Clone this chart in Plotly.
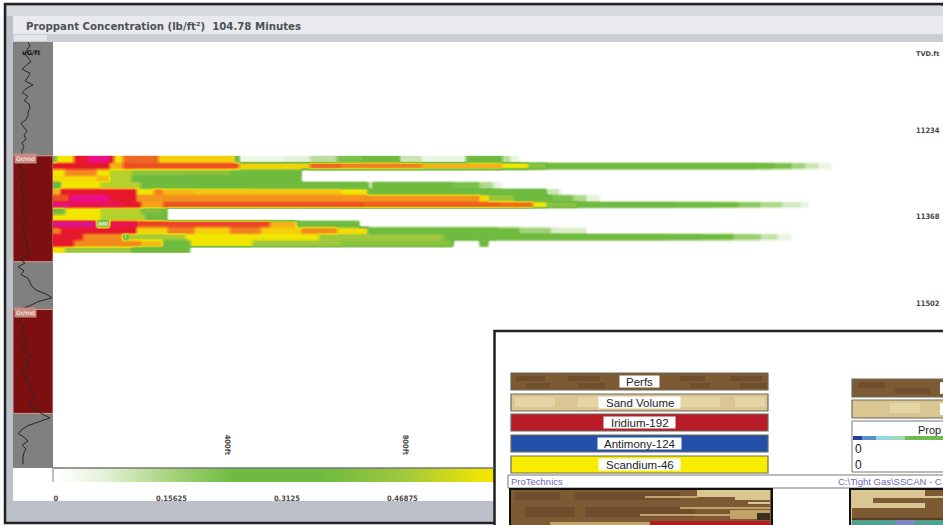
import plotly.graph_objects as go

W, H = 943, 525

# ---------- data ----------
PROPPANT_CMAX = 1.25
COLOR_STOPS = [(0, "#ffffff"), (0.06, "#e6f3dc"), (0.156, "#a5d27c"), (0.24, "#6fbb40"), (0.36, "#6fbb40"),
               (0.47, "#a0c83c"), (0.58, "#f2e600"), (0.66, "#f8b814"), (0.78, "#f28a1e"), (0.88, "#ee5a22"),
               (1.0, "#e8182c"), (1.12, "#ea1088"), (1.25, "#b41ca0")]

DISTANCE_STEP_FT = 10
MAX_DISTANCE_FT = 1800
DEPTH_TOP_FT = 11274
DEPTH_STEP_FT = 10

# each depth row: (outer end of run in ft, proppant concentration)
ROW_00 = [(13, .3), (52, .58), (80, 1.0), (130, 1.12), (142, 1.0), (160, .58), (243, .85), (249, .4), (413, .62), (422, .35),
          (520, .04), (580, .06), (640, .12), (700, .22), (782, .3), (834, .1), (930, .05), (1013, .26), (1030, .12), (1050, .05)]
ROW_01 = [(13, 1.0), (137, 1.0), (160, .7), (422, .9), (580, .62), (654, .85), (834, .8), (1013, .68), (1074, .58), (1110, .42),
          (1580, .3), (1620, .27), (1660, .22), (1690, .16), (1720, .1), (1755, .05)]
ROW_02 = [(31, .58), (108, .78), (130, .58), (189, .5), (400, .42), (564, .36)]
ROW_03 = [(108, .6), (130, .66), (189, .5), (300, .33), (564, .3)]
ROW_04 = [(25, .3), (115, .58), (200, .5), (450, .36), (710, .3), (721, .1), (900, .27), (960, .22), (990, .14), (1010, .06)]
ROW_05 = [(25, .7), (198, 1.0), (235, .58), (254, .8), (320, .66), (654, .64), (710, .58), (721, .3), (1119, .3), (1140, .1)]
ROW_06 = [(40, .9), (137, 1.12), (198, 1.0), (254, .75), (962, .76), (984, .6), (1040, .45), (1120, .3), (1170, .22), (1200, .14), (1230, .06)]
ROW_07 = [(40, 1.12), (160, 1.05), (204, 1.0), (254, .72), (700, .9), (1000, .87), (1088, .84), (1119, .58), (1180, .42),
          (1400, .3), (1480, .28), (1540, .24), (1590, .19), (1640, .14), (1680, .09), (1706, .05)]
ROW_08 = [(31, .36), (115, .58), (204, .5), (254, .4), (265, .3)]
ROW_09 = [(115, .58), (210, .5), (254, .36), (265, .3)]
ROW_10 = [(31, 1.15), (108, 1.15), (130, .12), (198, 1.05), (490, .92), (557, .68), (699, .3)]
ROW_11 = [(25, .8), (198, 1.0), (260, .62), (320, .8), (400, .62), (470, .8), (560, .62), (640, .78), (710, .6), (1000, .3),
          (1058, .24), (1120, .16), (1200, .08)]
ROW_12 = [(70, 1.0), (164, .78), (176, .14), (301, .48), (600, .58), (880, .47), (1000, .36), (1380, .3), (1460, .28), (1530, .24),
          (1590, .17), (1630, .11), (1665, .05)]
ROW_13 = [(52, 1.0), (204, .78), (254, .66), (317, .33), (452, .58), (650, .47), (908, .42), (962, 0), (980, .28)]
ROW_14 = [(31, .58), (189, .46), (317, .3)]
PROPPANT_ROWS = [ROW_00, ROW_01, ROW_02, ROW_03, ROW_04, ROW_05, ROW_06, ROW_07, ROW_08, ROW_09, ROW_10, ROW_11, ROW_12, ROW_13, ROW_14]

# gamma log track
LOG_TOP_FT = 11098
LOG_STEP_FT = 6
GAMMA = [60, 68, 56, 48, 60, 72, 52, 36, 68, 60, 48, 80, 52, 36, 60, 44, 64, 68, 60, 60, 52, 32, 44, 56, 44, 52, 36, 44, 36,
         36, 28, 44, 24, 32, 40, 28, 44, 32, 36, 44, 36, 48, 32, 40, 36, 48, 56, 44, 36, 44, 52, 44, 60, 52, 68, 64,
         28, 48, 20, 44, 32, 60, 68, 76, 92, 132, 156, 100, 68,
         28, 20, 32, 24, 36, 44, 32, 40, 48, 56, 36, 60, 72, 52, 64, 44, 36, 56, 48, 64, 68, 76, 84, 80, 68, 72, 92,
         116, 148, 108, 60, 36, 20, 44, 60, 36, 52, 44, 40, 40, 40]
RED_ZONES_FT = [(11274, 11438), (11512, 11673)]
ZONE_LABEL = "Gr/md"
LOG_UNITS = "uG/ft"

DEPTH_TICKS = [11234, 11368, 11502]
DEPTH_TICK_TEXT = ["<b>11234</b>", "<b>11368</b>", "<b>11502</b>"]
DEPTH_RANGE = [11757.6, 11097.7]
DISTANCE_TICKS = [400, 800, 1200]
DISTANCE_TICK_TEXT = ["<b>400ft</b>", "<b>800ft</b>", "<b>1200ft</b>"]
DISTANCE_RANGE = [9, 2006]
SCALE_TICKS = [0, 0.15625, 0.3125, 0.46875]
SCALE_TICK_TEXT = ["<b>0</b>", "<b>0.15625</b>", "<b>0.3125</b>", "<b>0.46875</b>"]
SCALE_RANGE = [-0.004, 0.594]
SCALE_VALUES = [i / 100 for i in range(0, 61)]

TITLE = "Proppant Concentration (lb/ft²)  104.78 Minutes"
LEGEND_LEFT = ["Perfs", "Sand Volume", "Iridium-192", "Antimony-124", "Scandium-46"]
FOOT_LEFT = "ProTechnics"
FOOT_RIGHT = "C:\\Tight Gas\\SSCAN - C"
BOX_TITLE = "Prop"

# ---------- build ----------
colorscale = [[v / PROPPANT_CMAX, c] for v, c in COLOR_STOPS]
columns = list(range(0, MAX_DISTANCE_FT, DISTANCE_STEP_FT))


def expand(runs):
    out = []
    for x in columns:
        val = 0
        for end, v in runs:
            if x <= end:
                val = v
                break
        out.append(val)
    return out


# two sub-rows per strip: smoothing softens edges without merging strips entirely
depths, z = [], []
for i, row in enumerate(PROPPANT_ROWS):
    vals = expand(row)
    for frac in (0.25, 0.75):
        depths.append(DEPTH_TOP_FT + (i + frac) * DEPTH_STEP_FT)
        z.append(vals)

fig = go.Figure()
fig.add_trace(go.Heatmap(x=columns, y=depths, z=z, colorscale=colorscale, zmin=0, zmax=PROPPANT_CMAX,
                         zsmooth="best", showscale=False, hoverinfo="skip", xaxis="x", yaxis="y"))
log_depth = [LOG_TOP_FT + i * LOG_STEP_FT for i in range(len(GAMMA))]
fig.add_trace(go.Scatter(x=GAMMA, y=log_depth, mode="lines", line=dict(color="#262626", width=1),
                         showlegend=False, hoverinfo="skip", xaxis="x2", yaxis="y"))
fig.add_trace(go.Heatmap(x=SCALE_VALUES, y=[0, 1], z=[SCALE_VALUES, SCALE_VALUES], colorscale=colorscale, zmin=0,
                         zmax=PROPPANT_CMAX, zsmooth="best", showscale=False, hoverinfo="skip", xaxis="x3", yaxis="y3"))


def px(x):
    return x / W


def py(y):
    return 1 - y / H


def box(x0, y0, x1, y1, fill, line=None, lw=0, layer="above"):
    return dict(type="rect", xref="paper", yref="paper", x0=px(x0), x1=px(x1), y0=py(y1), y1=py(y0),
                fillcolor=fill, line=dict(color=line or fill, width=lw), layer=layer)


def label(x, y, text, size=11, color="#222222", family="Liberation Sans", anchor="center", bold=False, bg=None):
    return dict(xref="paper", yref="paper", x=px(x), y=py(y), text=f"<b>{text}</b>" if bold else text, showarrow=False,
                xanchor=anchor, yanchor="middle", font=dict(size=size, color=color, family=family),
                bgcolor=bg, borderpad=0)


BROWN, BROWN_D, TAN, TAN_L = "#7c5a34", "#6e4e2c", "#c2a268", "#d9c692"
shapes = [
    # application window
    box(5, 4, 943, 523, "#bcc0c8", "#222222", 2.5, "below"),
    box(7, 6, 943, 16, "#d6d9de", layer="below"),
    box(13, 16, 943, 34, "#e9eaed", layer="below"),
    box(13, 34, 943, 42, "#c9cdd4", layer="below"),
    box(14, 35, 47, 41, "#e4e6ea", layer="below"),
    box(13, 42, 943, 468, "#ffffff", layer="below"),
    box(13, 42, 53, 468, "#808080", layer="below"),
    box(13, 468, 943, 501, "#ffffff", layer="below"),
]
for top, bottom in RED_ZONES_FT:
    shapes.append(dict(type="rect", xref="x2", yref="y", x0=0, x1=160, y0=top, y1=bottom, layer="below",
                       fillcolor="#7c1010", line=dict(color="#d89a90", width=1)))

# inset panel
shapes += [box(494.5, 331, 945, 527, "#ffffff", "#222222", 2.5)]
legend_fills = [BROWN, TAN_L, "#b81c28", "#2350a8", "#f8ec00"]
legend_tops = [373, 394, 414, 435, 456]
for top, fill in zip(legend_tops, legend_fills):
    shapes.append(box(511, top, 768, top + 17, fill, "#6a6a5a", 1.2))
# mottling on the brown and sand strips
for x0, x1 in [(516, 545), (568, 600), (680, 705), (730, 762)]:
    shapes.append(box(x0, 376, x1, 381, BROWN_D))
    shapes.append(box(x0 + 10, 383, x1 + 5, 388, BROWN_D))
for x0, x1 in [(515, 555), (578, 600), (680, 720), (735, 765)]:
    shapes.append(box(x0, 397, x1, 407, "#e4d4a6"))
label_w = [40, 82, 72, 84, 82]
for top, w in zip(legend_tops, label_w):
    shapes.append(box(639.5 - w / 2, top + 2.5, 639.5 + w / 2, top + 14.5, "#ffffff"))
shapes += [
    box(852, 379, 950, 397, BROWN, "#6a6a5a", 1.2),
    box(858, 382, 885, 388, BROWN_D), box(895, 388, 930, 394, BROWN_D),
    box(852, 400, 950, 418, TAN_L, "#6a6a5a", 1.2),
    box(890, 403, 920, 413, "#e4d4a6"),
    box(940, 382, 950, 394, "#ffffff"),
    box(940, 403, 950, 415, "#ffffff"),
    box(852, 421, 950, 472, "#ffffff", "#777777", 1),
    box(853, 436, 862, 440, "#2a3ca0"),
    box(862, 436, 876, 440, "#5a90d0"),
    box(876, 436, 892, 440, "#90d8e4"),
    box(892, 436, 905, 440, "#a0d8b0"),
    box(905, 436, 943, 440, "#70bb50"),
    box(508, 475, 950, 488, "#ffffff", "#777777", 1),
    # thumbnails
    box(510, 489, 772, 527, BROWN, "#111111", 2),
    box(850, 489, 950, 527, TAN_L, "#111111", 2),
]
for x0, x1 in [(515, 560), (575, 620), (600, 640), (640, 680)]:
    shapes.append(box(x0, 492, x1, 500, BROWN_D))
    shapes.append(box(x0 + 10, 507, x1 + 15, 517, BROWN_D))
shapes += [
    box(697, 490, 770, 497, TAN_L),
    box(645, 496, 697, 498, TAN),
    box(735, 497, 770, 500, TAN_L),
    box(748, 502, 770, 504, TAN_L),
    box(680, 507, 770, 509, TAN),
    box(640, 514, 730, 516, TAN),
    box(730, 510, 770, 519, TAN),
    box(757, 513, 770, 520, "#3a3020"),
    box(650, 521, 770, 527, "#b01c20"),
    box(550, 522, 650, 527, TAN),
    # second thumbnail
    box(925, 490, 943, 496, BROWN),
    box(873, 498, 943, 503, BROWN),
    box(852, 508, 943, 510, BROWN),
    box(925, 503, 943, 508, BROWN),
    box(852, 510, 943, 518, BROWN),
    box(852, 518, 943, 520, "#5a3c20"),
    box(852, 520, 943, 527, "#50a090"),
    box(895, 520, 915, 527, "#8088c0"),
]

annotations = [label(25, 26, TITLE, 10.2, "#4c5256", "DejaVu Sans", "left", True),
               label(21, 53, LOG_UNITS, 6.5, "#111111", "DejaVu Sans", "left", True),
               label(927, 54, "TVD.ft", 6.5, "#444444", "DejaVu Sans", "center", True)]
for top, _ in RED_ZONES_FT:
    annotations.append(dict(xref="paper", yref="y", x=px(14), y=top + 4, text=ZONE_LABEL, showarrow=False, xanchor="left",
                            yanchor="middle", font=dict(size=6, color="#ffffff", family="DejaVu Sans"), bgcolor="#c88a80"))
for top, t in zip(legend_tops, LEGEND_LEFT):
    annotations.append(label(639.5, top + 8.5, t, 11.5))
annotations += [label(917, 429.5, BOX_TITLE, 11, anchor="left"),
                label(854, 449, "0", 12, anchor="left"),
                label(854, 465, "0", 12, anchor="left"),
                label(510, 481.5, FOOT_LEFT, 9.5, "#6a6ac0", anchor="left"),
                label(837, 481.5, FOOT_RIGHT, 9.5, "#6a6ac0", anchor="left")]

tick_font = dict(size=7.5, color="#4a4a4a", family="DejaVu Sans Condensed, DejaVu Sans")
fig.update_layout(
    width=W, height=H, margin=dict(l=0, r=0, t=0, b=0), autosize=False,
    paper_bgcolor="#ffffff", plot_bgcolor="rgba(0,0,0,0)", showlegend=False,
    shapes=shapes, annotations=annotations,
    xaxis=dict(domain=[px(53), 1], range=DISTANCE_RANGE, tickvals=DISTANCE_TICKS, ticktext=DISTANCE_TICK_TEXT,
               ticks="inside", ticklen=9, tickcolor="rgba(0,0,0,0)", ticklabelposition="inside", tickangle=90,
               tickfont=tick_font, showgrid=False, zeroline=False, anchor="y", showline=False),
    yaxis=dict(domain=[py(468), py(42)], range=DEPTH_RANGE, tickvals=DEPTH_TICKS, ticktext=DEPTH_TICK_TEXT, side="right", anchor="x",
               ticks="inside", ticklen=2, tickcolor="rgba(0,0,0,0)", ticklabelposition="inside", tickfont=tick_font,
               showgrid=False, zeroline=False, showline=False),
    xaxis2=dict(domain=[px(13), px(53)], range=[0, 160], visible=False, anchor="y"),
    xaxis3=dict(domain=[px(53), px(495)], range=SCALE_RANGE, tickvals=SCALE_TICKS, ticktext=SCALE_TICK_TEXT,
                ticks="outside", ticklen=9, tickcolor="rgba(0,0,0,0)", tickfont=tick_font, showgrid=False, zeroline=False,
                anchor="y3", showline=False),
    yaxis3=dict(domain=[py(482), py(468)], range=[0, 1], visible=False, anchor="x3"),
)
fig.add_shape(type="line", xref="paper", yref="paper", x0=px(53), x1=px(494), y0=py(468), y1=py(468), line=dict(color="#777777", width=1.5))
fig.add_shape(type="line", xref="paper", yref="paper", x0=px(53), x1=px(53), y0=py(482), y1=py(468), line=dict(color="#aaaaaa", width=1.5))

fig.write_html("out.html", config={"displayModeBar": False},
               post_script="document.body.style.margin='0';document.body.style.overflow='hidden';")
